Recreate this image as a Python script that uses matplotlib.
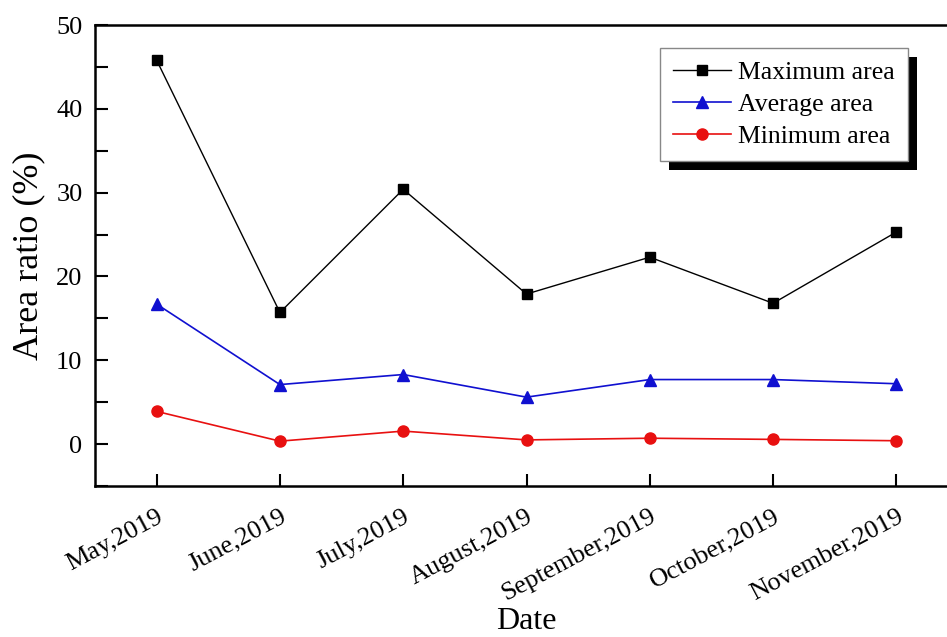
import matplotlib
matplotlib.use('Agg')
import matplotlib.pyplot as plt
import matplotlib.patheffects as pe
from matplotlib.ticker import MultipleLocator

# Monthly area ratio data
months = ['May,2019', 'June,2019', 'July,2019', 'August,2019',
          'September,2019', 'October,2019', 'November,2019']
max_area = [45.8, 15.7, 30.4, 17.9, 22.3, 16.8, 25.3]
avg_area = [16.7, 7.1, 8.3, 5.6, 7.7, 7.7, 7.2]
min_area = [3.9, 0.35, 1.55, 0.5, 0.7, 0.56, 0.4]

plt.rcParams['font.family'] = ['Liberation Serif', 'DejaVu Serif']

fig = plt.figure(figsize=(9.47, 6.37), dpi=100)
# axes run slightly past the right edge, so the right spine is cut off
ax = fig.add_axes([95 / 947, 1 - 486 / 637, 863 / 947, 461 / 637])

x = range(len(months))
ax.plot(x, max_area, color='black', marker='s', markersize=7, lw=1, label='Maximum area')
ax.plot(x, avg_area, color='#1010d0', marker='^', markersize=9, lw=1.2, label='Average area')
ax.plot(x, min_area, color='#e81010', marker='o', markersize=8, lw=1.2, label='Minimum area')

ax.set_xlim(-0.5, 6.5)
ax.set_ylim(-5, 50)
ax.set_xticks(list(x))
ax.set_xticklabels(months, rotation=28, ha='right', rotation_mode='anchor')
ax.yaxis.set_major_locator(MultipleLocator(10))
ax.yaxis.set_minor_locator(MultipleLocator(5))
ax.tick_params(axis='both', which='both', direction='in', length=9, width=1.5,
               labelsize=19)
ax.tick_params(axis='y', which='major', pad=9)
ax.tick_params(axis='x', which='major', pad=14)
for side in ['left', 'bottom', 'top', 'right']:
    ax.spines[side].set_linewidth(1.8)

ax.set_xlabel('Date', fontsize=23, labelpad=1)
ax.set_ylabel('Area ratio (%)', fontsize=26, labelpad=8)

leg = ax.legend(loc='upper left', bbox_to_anchor=(660 / 947, 1 - 48 / 637),
                bbox_transform=fig.transFigure, fontsize=18.5, fancybox=False,
                edgecolor='#888888', framealpha=1, handlelength=2.25,
                handletextpad=0.3, labelspacing=0.35, borderpad=0.5,
                borderaxespad=0)
leg.get_frame().set_linewidth(1)
leg.get_frame().set_path_effects([
    pe.SimplePatchShadow(offset=(6.5, -6.5), shadow_rgbFace='black', alpha=1),
    pe.Normal()])

fig.savefig('out.png', dpi=100)
